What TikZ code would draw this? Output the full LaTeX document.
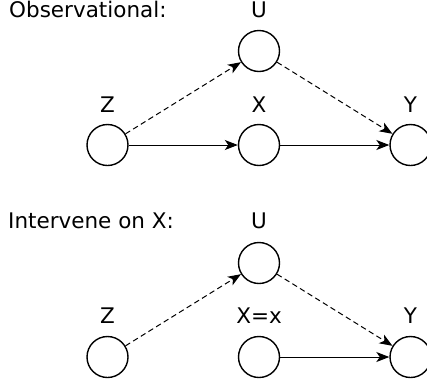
\documentclass[tikz,border=0pt]{standalone}
\usepackage{fontspec}
\setmainfont{DejaVu Sans}
\usetikzlibrary{arrows.meta}
\begin{document}
\begin{tikzpicture}[x=1pt,y=-1pt,
  var/.style={circle,draw,line width=1.4pt,minimum size=41pt,inner sep=0pt},
  lbl/.style={font=\fontsize{21.5}{25}\selectfont,anchor=base,inner sep=0pt},
  ttl/.style={font=\fontsize{21.5}{25}\selectfont,anchor=base west,inner sep=0pt},
  edge/.style={line width=1pt,-{Stealth[length=13pt,width=10pt,inset=3.5pt]}},
  dedge/.style={edge,dash pattern=on 5.5pt off 3.5pt}]
\useasboundingbox (0,0) rectangle (427,381);
\clip (0,0) rectangle (427,381);
% top panel
\node[ttl] (t1) at (9,17.5) {Observational:};
\node[var] (u1) at (259,51) {};
\node[var] (z1) at (107.5,145) {};
\node[var] (x1) at (259,145) {};
\node[var] (y1) at (410.5,145) {};
\node[lbl] (lu1) at (259,17.5) {U};
\node[lbl] (lz1) at (107.5,112) {Z};
\node[lbl] (lx1) at (259,112) {X};
\node[lbl] (ly1) at (410.5,112) {Y};
\draw[dedge] (z1) -- (u1);
\draw[dedge] (u1) -- (y1);
\draw[edge] (z1) -- (x1);
\draw[edge] (x1) -- (y1);
% bottom panel
\node[ttl] (t2) at (8,228.5) {Intervene on X:};
\node[var] (u2) at (259,263) {};
\node[var] (z2) at (107.5,357) {};
\node[var] (x2) at (259,357) {};
\node[var] (y2) at (410.5,357) {};
\node[lbl] (lu2) at (259,228.5) {U};
\node[lbl] (lz2) at (107.5,323.5) {Z};
\node[lbl] (lx2) at (259,323.5) {X=x};
\node[lbl] (ly2) at (410.5,323.5) {Y};
\draw[dedge] (z2) -- (u2);
\draw[dedge] (u2) -- (y2);
\draw[edge] (x2) -- (y2);
\end{tikzpicture}
\end{document}
